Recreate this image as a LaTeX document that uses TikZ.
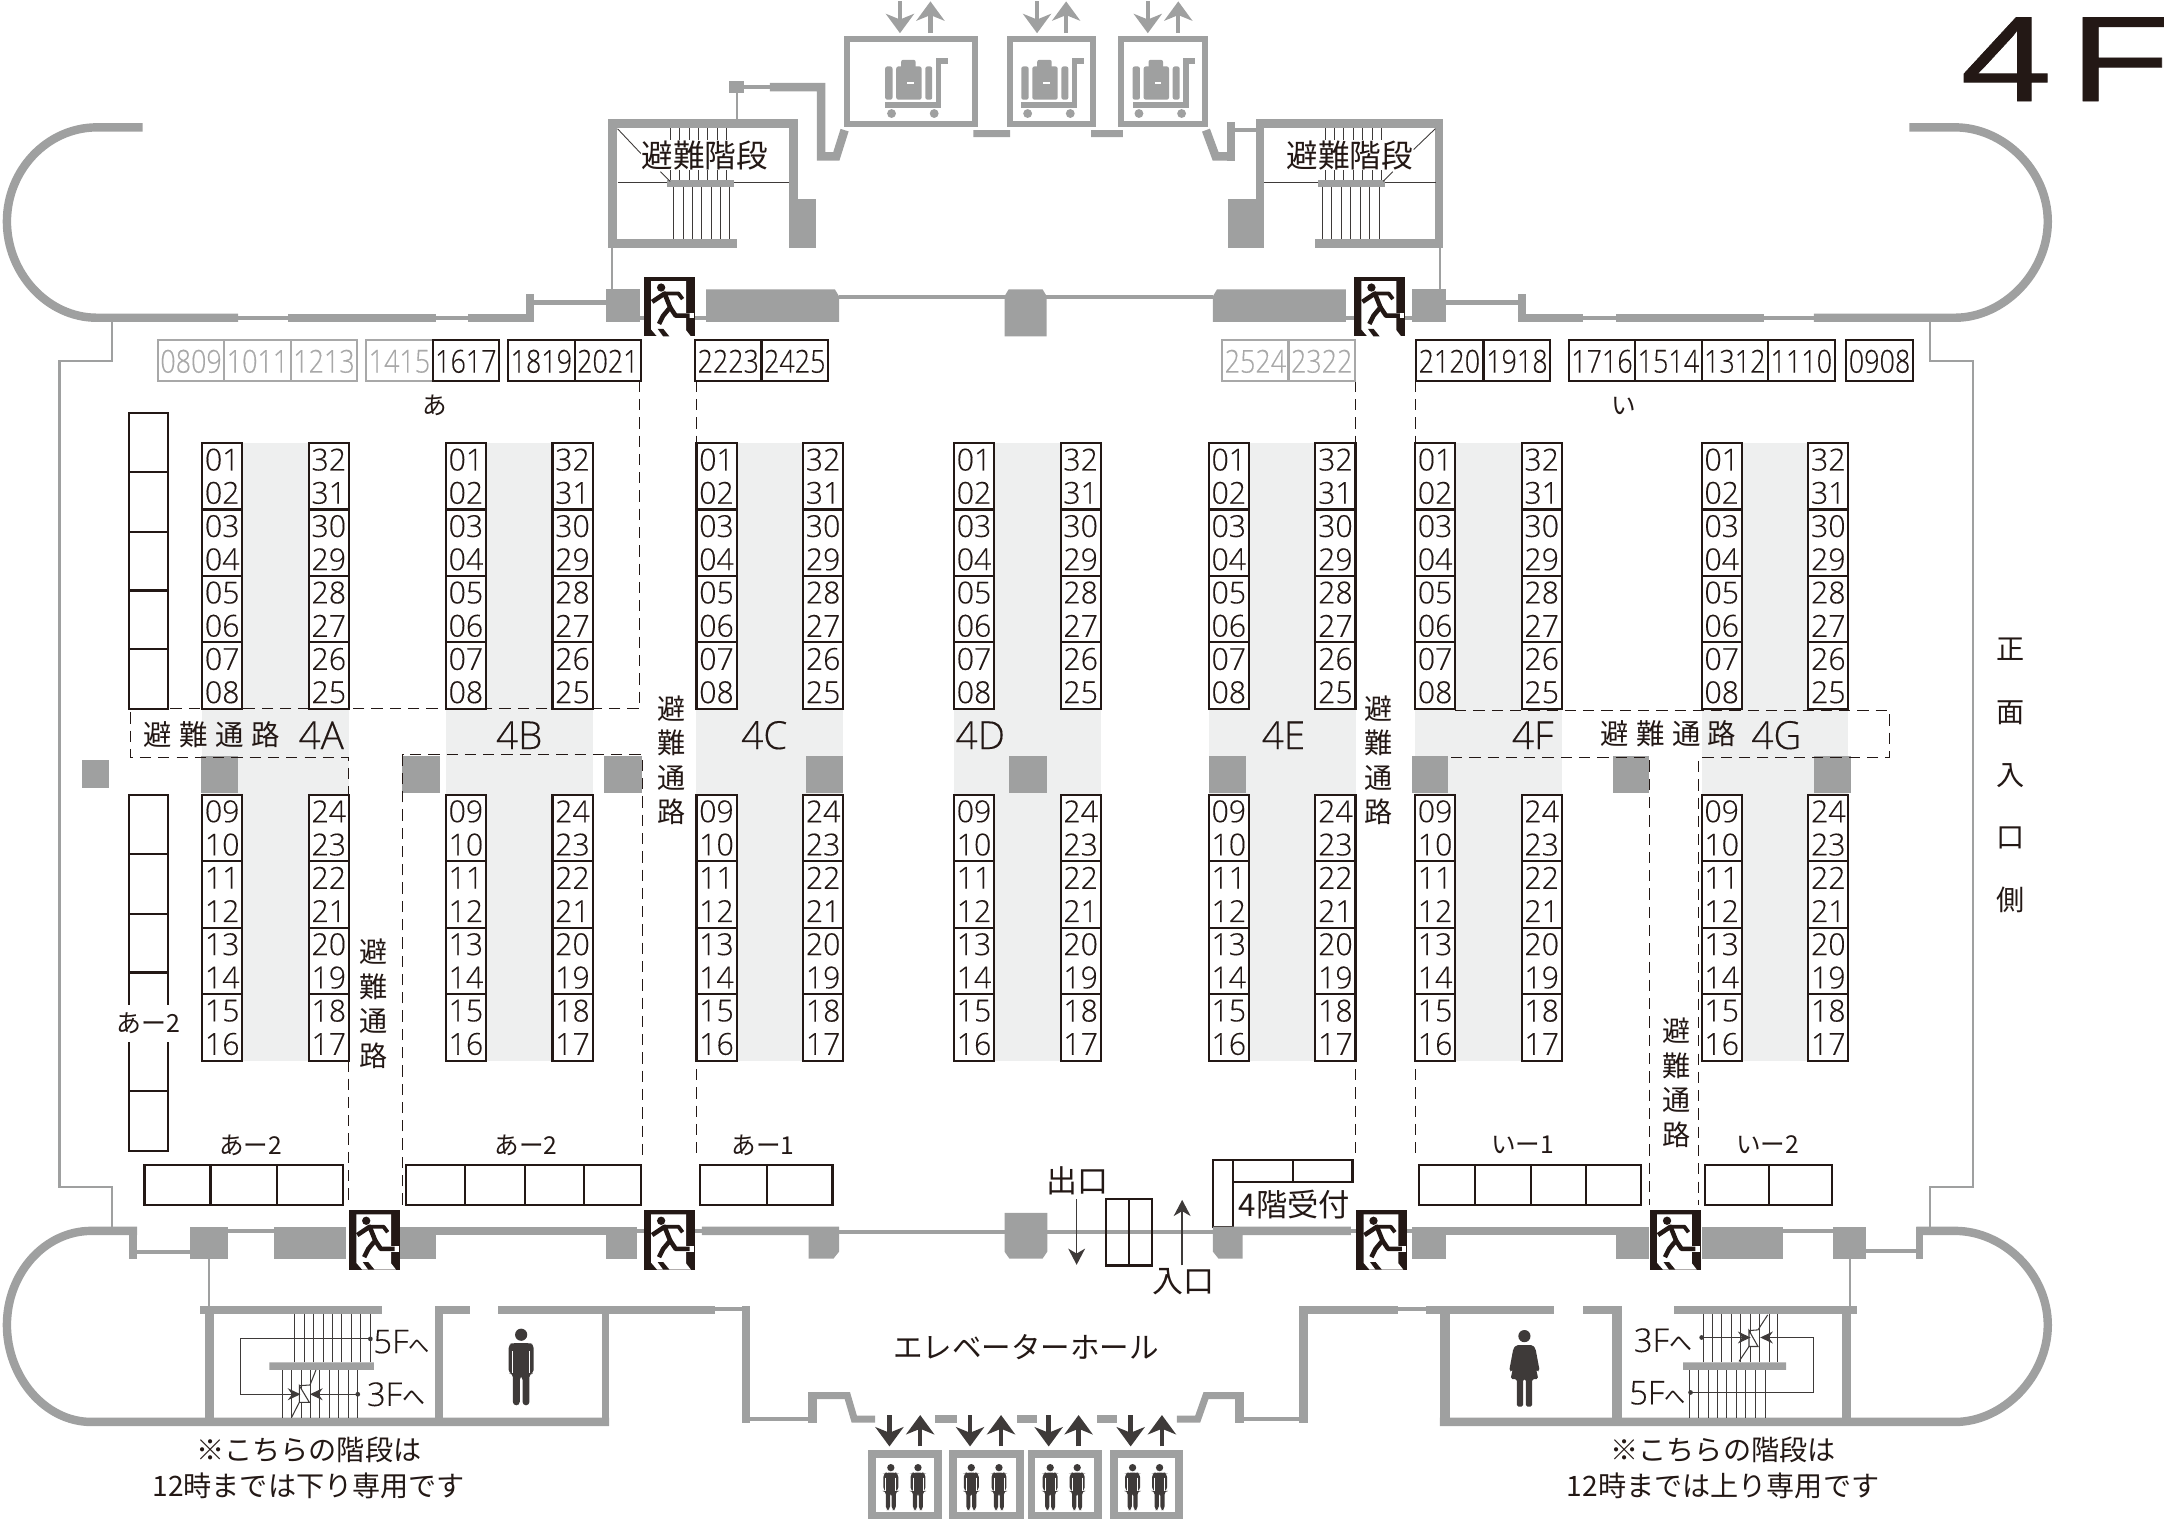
\documentclass[tikz,border=0pt]{standalone}
\usepackage{fontspec}
\usetikzlibrary{arrows.meta}
\setmainfont{Liberation Sans}
\newfontfamily\jpfont{Noto Sans CJK JP}
\newfontfamily\numfont[FakeBold=0.3]{Open Sans Light}
\newfontfamily\narrowfont[FakeStretch=0.85,FakeBold=0.3]{Open Sans Light}
\newfontfamily\bigfont[FakeStretch=1.36,FakeBold=0.6]{Liberation Sans}
\definecolor{wallgray}{HTML}{9FA0A0}
\definecolor{floorgray}{HTML}{EEEFEF}
\definecolor{ink}{HTML}{231815}
\definecolor{darkink}{HTML}{3E3A39}
\definecolor{fadegray}{HTML}{A8A8A8}
\tikzset{
    wall/.style={draw=wallgray,line width=2.4pt},
    thinwall/.style={draw=wallgray,line width=1.2pt},
    outline/.style={draw=wallgray,line width=0.6pt},
    seatline/.style={draw=ink,line width=0.6pt},
    fadeline/.style={draw=fadegray,line width=0.6pt},
    escape/.style={draw=ink,line width=0.3pt,dash pattern=on 3.2pt off 2pt},
    tread/.style={draw=darkink,line width=0.25pt},
    digit/.style={font=\numfont\fontsize{8.6}{9}\selectfont,text=ink,inner sep=0pt},
    pairnum/.style={font=\narrowfont\fontsize{9}{9}\selectfont,text=ink,inner sep=0pt},
    blockname/.style={font=\numfont\fontsize{11}{11}\selectfont,text=ink,inner sep=0pt},
    jp/.style={font=\jpfont\fontsize{8}{9.8}\selectfont,text=ink,inner sep=0pt,align=center},
    jpsmall/.style={font=\jpfont\fontsize{7}{8}\selectfont,text=ink,inner sep=0pt},
    floornum/.style={font=\numfont\fontsize{9.3}{10}\selectfont,text=ink,inner sep=0pt},
    grayarrow/.style={draw=wallgray,line width=1.2pt,-{Stealth[length=5.5pt,width=8pt,inset=1.6pt]}},
    darkarrow/.style={draw=darkink,line width=1.3pt,-{Stealth[length=5.5pt,width=8pt,inset=1.6pt]}},
    thinarrow/.style={draw=darkink,line width=0.4pt,-{Stealth[length=4.6pt,width=4.8pt,inset=1.4pt]}},
    pointer/.style={draw=darkink,line width=0.3pt,-{Stealth[length=3.6pt,width=3.4pt,inset=1.2pt]}},
    breakline/.style={draw=darkink,line width=0.3pt,line join=miter},
    pics/man/.style={code={
        \fill[darkink] (0,5) circle (4.4);
        \fill[darkink,rounded corners=1pt] (-9,12)--(-6,11)--(6,11)--(9,12)--(9,33)--(6,33)--(6,56)--(1,56)--(1,35)--(-1,35)--(-1,56)--(-6,56)--(-6,33)--(-9,33)--cycle;
        \draw[white,line width=0.25pt] (-6,17)--(-6,33) (6,17)--(6,33);
    }},
    pics/woman/.style={code={
        \fill[darkink] (0,5) circle (4.4);
        \fill[darkink,rounded corners=0.5pt] (-6,11.5)--(6,11.5)--(8,14)--(11,30)--(9,31)--(7,22)--(10,36)--(5.5,36)--(5.5,56)--(1,56)--(1,36)--(-1,36)--(-1,56)--(-5.5,56)--(-5.5,36)--(-10,36)--(-7,22)--(-9,31)--(-11,30)--(-8,14)--cycle;
    }},
    pics/cart/.style={code={
        \fill[wallgray,rounded corners=0.6pt] (0,6) rectangle (5.3,30);
        \fill[wallgray,rounded corners=0.6pt] (8,6) rectangle (26.3,30);
        \fill[wallgray,rounded corners=0.6pt] (11.5,1.2) rectangle (22,8);
        \fill[wallgray,rounded corners=0.6pt] (29,6) rectangle (34,30);
        \fill[white] (16,17) rectangle (20.7,19);
        \fill[wallgray] (0,31.4) rectangle (40.6,36);
        \fill[wallgray] (36.7,0) rectangle (40.6,36);
        \fill[wallgray] (36.7,0) rectangle (45.4,4);
        \fill[wallgray] (4.6,40) circle (3.2) (35.4,40) circle (3.2);
    }},
    pics/exitsign/.style={code={
        \fill[ink] (0,0) rectangle (37,43);
        \fill[white] (5.3,3)--(30.5,3)--(30.5,38.5)--(34,43)--(9.6,43)--(5.3,38)--cycle;
        \fill[ink] (12.5,7.7) circle (3);
        \draw[ink,line width=1.3pt,line join=round] (6,18)--(15,12)--(19,22)--(14,28)--(11,34);
        \draw[ink,line width=1.1pt,line join=round] (15,12)--(25,12)--(28,16);
        \draw[white,line width=1.6pt] (24,28)--(36,28);
        \draw[ink,line width=1.3pt,line join=round] (19,22)--(23,28)--(33,28);
        \fill[ink] (10,37.5)--(14,37.5)--(18.5,43)--(14,43)--cycle;
    }},
}
\newcommand{\seatbox}[5]{%
    \draw[seatline,fill=white] (#1,#2) rectangle ++(29,48);
    \node[digit] (seat#5#3) at (#1+14.5,#2+12) {#3};
    \node[digit] (seat#5#4) at (#1+14.5,#2+36) {#4};
}

\begin{document}
\begin{tikzpicture}[x=0.013846cm,y=-0.013846cm]
    \useasboundingbox (0,0) rectangle (1568,1097.8);
    % booth floors
    \foreach \x in {146,322,503,689,873,1022,1229}
        \fill[floorgray] (\x,320) rectangle (\x+106,766);
    % pillars
    \foreach \a/\b/\c/\d in {145/546/172/573,59/549/79/569,290/546/317.5/573,436/546/463.7/573,582/546/609/573,729/546/756/573,873/546/900/573,1020/546/1046/573,1165/546/1191/573,1310/546/1337/573}
        \fill[wallgray] (\a,\b) rectangle (\c,\d);
    % escape routes
    \draw[escape] (462,275) -- (462,512) -- (94,512) -- (94,547) -- (252,547) -- (252,870);
    \draw[escape] (291,870) -- (291,545) -- (464,545) -- (464,838);
    \draw[escape] (503,275) -- (503,512) (503,574) -- (503,838);
    \draw[escape] (979,275) -- (979,512) (979,574) -- (979,838);
    \draw[escape] (1022,275) -- (1022,512) (1022,574) -- (1022,838);
    \draw[escape] (1051,513) -- (1365,513) -- (1365,547) -- (1227,547) -- (1227,870);
    \draw[escape] (1048,547) -- (1191,547) -- (1191,870);
    % booth blocks
    \foreach \x/\blockid in {146/A,322/B,503/C,689/D,873/E,1022/F,1229/G} {
        \seatbox{\x}{320}{01}{02}{\blockid}
        \seatbox{\x}{368}{03}{04}{\blockid}
        \seatbox{\x}{416}{05}{06}{\blockid}
        \seatbox{\x}{464}{07}{08}{\blockid}
        \seatbox{\x}{574}{09}{10}{\blockid}
        \seatbox{\x}{622}{11}{12}{\blockid}
        \seatbox{\x}{670}{13}{14}{\blockid}
        \seatbox{\x}{718}{15}{16}{\blockid}
        \seatbox{\x+77}{320}{32}{31}{\blockid}
        \seatbox{\x+77}{368}{30}{29}{\blockid}
        \seatbox{\x+77}{416}{28}{27}{\blockid}
        \seatbox{\x+77}{464}{26}{25}{\blockid}
        \seatbox{\x+77}{574}{24}{23}{\blockid}
        \seatbox{\x+77}{622}{22}{21}{\blockid}
        \seatbox{\x+77}{670}{20}{19}{\blockid}
        \seatbox{\x+77}{718}{18}{17}{\blockid}
    }
    \foreach \x/\blockid in {232/A,375/B,552/C,708/D,927/E,1107/F,1283/G}
        \node[blockname] (name\blockid) at (\x,531) {4\blockid};
    % side stacks
    \foreach \y in {298,341,384,426,469} \draw[seatline] (93,\y) rectangle (121.5,\y+43);
    \foreach \y in {574,617,660,702,745,788} \draw[seatline] (93,\y) rectangle (121.5,\y+43);
    \node[jp,fill=white,minimum height=10.6pt,font=\jpfont\fontsize{7.1}{8}\selectfont] (stacklabel) at (107,739) {あー2};
    % top row pairs
    \foreach \x/\pairid in {114/0809,162/1011,210/1213,264.5/1415} {
        \draw[fadeline] (\x,245.5) rectangle ++(48,29.5);
        \node[pairnum,text=fadegray] (pair\pairid) at (\x+24,261) {\pairid};
    }
    \foreach \x/\pairid in {882.7/2524,930.6/2322} {
        \draw[fadeline] (\x,245.5) rectangle ++(48,29.5);
        \node[pairnum,text=fadegray] (pair\pairid) at (\x+24,261) {\pairid};
    }
    \foreach \x/\pairid in {312.5/1617,367/1819,415/2021,502/2223,550/2425,1022.8/2120,1071.6/1918,1133/1716,1181/1514,1229/1312,1277/1110,1333.5/0908} {
        \draw[seatline] (\x,245.5) rectangle ++(48,29.5);
        \node[pairnum] (pair\pairid) at (\x+24,261) {\pairid};
    }
    \node[jpsmall] (rowa) at (314,293) {あ};
    \node[jpsmall] (rowi) at (1173,293) {い};
    % lower desks
    \foreach \a/\b in {104.4/152,152/200,200/248,293/336,336/379,379/422,422/463,505.6/553.7,553.7/601.3,1025/1065,1065/1105.7,1105.7/1145.6,1145.6/1185.5,1231.4/1277.8,1277.8/1323}
        \draw[seatline] (\a,841.3) rectangle (\b,870);
    \foreach \x/\deskid/\deskname in {181/a/あー2,380/b/あー2,551/c/あー1,1099.7/d/いー1,1276.7/e/いー2}
        \node[jpsmall] (desk\deskid) at (\x,827) {\deskname};
    % reception
    \draw[seatline] (876,838) rectangle (890.5,886);
    \draw[seatline] (890.5,838) rectangle (933.6,854);
    \draw[seatline] (933.6,838) rectangle (976.8,854);
    \node[jp,font=\jpfont\fontsize{8.9}{10}\selectfont] (reception) at (935,870) {4階受付};
    % upper walls
    \draw[wall] (103,92) -- (70,92) .. controls (34,92) and (5,123) .. (5,160) .. controls (5,197) and (34,229.5) .. (70,229.5) -- (172,229.5);
    \draw[wall] (1379,92) -- (1412,92) .. controls (1447,92) and (1479,123) .. (1479,160) .. controls (1479,197) and (1447,229.5) .. (1412,229.5) -- (1310,229.5);
    \foreach \a/\b/\c/\d in {208/227/315/232.5,338/227/385/232.5,380/212/385.5/232.5,438/209/462/232.5,1020/209/1044/232.5,1096/212/1102/232.5,1096/227/1143/232.5,1167/227/1274/232.5}
        \fill[wallgray] (\a,\b) rectangle (\c,\d);
    \draw[thinwall] (172,229.5) -- (208,229.5) (315,229.5) -- (338,229.5) (385,218.5) -- (438,218.5) (462,229.5) -- (510,229.5);
    \draw[thinwall] (606,214.7) -- (876,214.7) (972,229.5) -- (1020,229.5) (1044,218.5) -- (1096,218.5) (1143,229.5) -- (1167,229.5) (1274,229.5) -- (1310,229.5);
    \fill[wallgray] (510,209) -- (603,209) -- (606,214) -- (606,232.5) -- (510,232.5) -- cycle;
    \fill[wallgray] (728.5,209) -- (753,209) -- (756,214) -- (756,243) -- (725.5,243) -- (725.5,214) -- cycle;
    \fill[wallgray] (879,209) -- (972,209) -- (972,232.5) -- (876,232.5) -- (876,214) -- cycle;
    \draw[outline] (81,232) -- (81,261) -- (43,261) -- (43,857) -- (81,857) -- (81,886);
    \draw[outline] (1394,232) -- (1394,261) -- (1425,261) -- (1425,857) -- (1394,857) -- (1394,886);
    % emergency stairs
    \foreach \a/\b/\c/\d in {439/86/576/92.5,439/86/445.5/179,570/86/576/179,570/144/589/179,439/172.6/532/179,907/86/1042.5/92.5,907/86/913/179,887/144/913/179,1036.5/86/1042.5/179,950/172.6/1042.5/179,482/130/530/135,952/130/1000/135}
        \fill[wallgray] (\a,\b) rectangle (\c,\d);
    \draw[outline] (442,179) -- (442,209) (1040,179) -- (1040,209);
    \foreach \x in {484,490.8,497.6,504.4,511.2,518,524.8} \draw[tread] (\x,92.5) -- (\x,130);
    \foreach \x in {486.5,493.3,500.1,506.9,513.7,520.5,527} \draw[tread] (\x,135) -- (\x,172.6);
    \foreach \x in {957,963.8,970.6,977.4,984.2,991,998} \draw[tread] (\x,92.5) -- (\x,130);
    \foreach \x in {955,961.8,968.6,975.4,982.2,989,996} \draw[tread] (\x,135) -- (\x,172.6);
    \draw[tread] (446,132) -- (482,132) (530,132) -- (570,132) (913,132) -- (952,132) (1000,132) -- (1037,132);
    \draw[tread] (446,93) -- (463,111) (477,124) -- (484,131) (1036.6,93) -- (1021,108) (1006,124) -- (999,131);
    \node[jp,fill=white,font=\jpfont\fontsize{9}{10}\selectfont] (stairleft) at (509,112) {避難階段};
    \node[jp,fill=white,font=\jpfont\fontsize{9}{10}\selectfont] (stairright) at (975,112) {避難階段};
    % goods lifts
    \draw[thinwall,fill=wallgray] (528,60) rectangle (536,66);
    \draw[outline] (532,66) -- (532,86);
    \draw[thinwall] (536,62.6) -- (556,62.6);
    \draw[wall,line join=miter] (556,63) -- (593,63) -- (593,113) -- (604,113) -- (610,94);
    \draw[wall,line join=miter] (871,94) -- (878,113) -- (889,113);
    \draw[wall] (889,88) -- (889,116);
    \draw[thinwall] (891.6,94) -- (907,94);
    \fill[wallgray] (703,94) rectangle (729.5,99) (788,94) rectangle (811,99);
    \foreach \a/\b/\c in {612/704.5/639.3,729.5/789.5/737.6,809.5/870.5/818} {
        \draw[draw=wallgray,line width=1.7pt] (\a,28.5) rectangle (\b,89.5);
        \pic at (\c,42) {cart};
    }
    \foreach \a/\b in {650/672,749/770,829/851} {
        \draw[grayarrow] (\a,1) -- (\a,24);
        \draw[grayarrow] (\b,24) -- (\b,1);
    }
    % lower walls
    \draw[wall] (99,889) -- (66,889) .. controls (32,889) and (5,920) .. (5,957) .. controls (5,994) and (32,1027) .. (66,1027) -- (440,1027);
    \draw[wall] (1384,889) -- (1412,889) .. controls (1447,889) and (1479,920) .. (1479,957) .. controls (1479,994) and (1447,1027) .. (1412,1027) -- (1040,1027);
    \foreach \a/\b/\c/\d in {93/886/99/909,137/886/165/909,197.6/886/250/909,289/886/315/909,315/886/438/892,438/886/460/909,1020/886/1044/909,1044/886/1167/892,1167/886/1191/909,1229/886/1287.5/909,1323.6/886/1348/909,1384/886/1389/909}
        \fill[wallgray] (\a,\b) rectangle (\c,\d);
    \fill[wallgray] (507,886) -- (606,886) -- (606,904) -- (602,909) -- (584,909) -- (584,892) -- (507,892) -- cycle;
    \fill[wallgray] (725.5,876) -- (756.4,876) -- (756.4,904) -- (753,909) -- (729,909) -- (725.5,904) -- cycle;
    \fill[wallgray] (876,886) -- (975.7,886) -- (975.7,892) -- (897.5,892) -- (897.5,909) -- (880,909) -- (876,904) -- cycle;
    \draw[thinwall] (99,904) -- (137,904) (165,889) -- (197.6,889) (460,889) -- (507,889) (606,889.7) -- (725.5,889.7) (756.4,889.7) -- (876,889.7) (975,889) -- (1020,889) (1287.5,889) -- (1323.6,889) (1348,903.4) -- (1384,903.4);
    \draw[outline] (151,909) -- (151,943) (1336,909) -- (1336,943);
    % rooms below
    \foreach \a/\b/\c/\d in {144.4/943/276/949,148.4/943/154.5/1027,314/943/339.4/949,314/943/320/1027,359.7/943/516.7/949,434.7/943/440/1030,536/943/542/1028,583.6/1005.5/590/1028,892/1005.5/898.6/1028,938/943/945/1028,939.6/943/1009.7/949,1029.7/943/1122.4/949,1040/943/1047/1030,1143/943/1171.5/949,1164.5/943/1171.5/1027,1209/943/1341.4/949,1330/943/1336.6/1027,675/1022/691.5/1028,734.6/1022/748.7/1028,792/1022/806.9/1028}
        \fill[wallgray] (\a,\b) rectangle (\c,\d);
    \draw[wall,line width=2pt,line join=miter] (586,1008) -- (612,1008) -- (617,1025) -- (632,1025);
    \draw[wall,line width=2pt,line join=miter] (850,1025) -- (865,1025) -- (871,1008) -- (896,1008);
    \draw[thinwall] (516.7,945.6) -- (536,945.6) (542,1024.7) -- (583.6,1024.7) (898.6,1024.7) -- (938,1024.7) (1009.7,945.6) -- (1029.7,945.6);
    % guest stairs
    \foreach \x in {213,219.8,226.6,233.4,240.1,246.9,253.7,260.5,267.2} \draw[tread] (\x,949) -- (\x,984);
    \foreach \x in {204,210.8,217.6,224.3,231,237.8,244.5,251.3,258} \draw[tread] (\x,989.4) -- (\x,1024);
    \foreach \x in {1230,1236.8,1243.6,1250.4,1257.2,1264,1270.8,1277.6,1284} \draw[tread] (\x,949) -- (\x,984);
    \foreach \x in {1220,1226.8,1233.6,1240.4,1247.2,1254,1260.8,1267.6,1275} \draw[tread] (\x,989.4) -- (\x,1024);
    \fill[wallgray] (194.5,984) rectangle (270,989.4) (1215.7,984) rectangle (1290,989.4);
    \draw[breakline,fill=white] (216.2,1000.8) -- (223.4,1012.8) -- (216.2,1012.8) -- cycle;
    \draw[breakline] (228.2,989.5) -- (223.9,1000.3) -- (216.2,1000.8) (216.2,1012.8) -- (210.6,1023.7);
    \draw[breakline,fill=white] (1263.2,961) -- (1269.7,972.5) -- (1263.2,972.5) -- cycle;
    \draw[breakline] (1276.7,949.7) -- (1269.7,960.5) -- (1263.2,961) (1263.2,972.5) -- (1256,983.3);
    \coordinate (dnfive) at (267.5,967);
    \coordinate (dnthree) at (258.4,1007);
    \coordinate (upfive) at (1221,1005.7);
    \coordinate (upthree) at (1229,966);
    \fill[darkink] (dnfive) circle (1.7) (dnthree) circle (1.7) (upfive) circle (1.7) (upthree) circle (1.7);
    \draw[pointer] (dnfive) -- (173.8,967) -- (173.8,1007) -- (217,1007);
    \draw[pointer] (dnthree) -- (223.9,1007);
    \draw[pointer] (upfive) -- (1310,1005.7) -- (1310,966) -- (1271.3,966);
    \draw[pointer] (upthree) -- (1264.3,966);
    \node[floornum] (toleftfive) at (290,969) {5F{\jpfont\fontsize{6}{6}\selectfont へ}};
    \node[floornum] (toleftthree) at (286,1007) {3F{\jpfont\fontsize{6.5}{6}\selectfont へ}};
    \node[floornum] (torightthree) at (1201,968) {3F{\jpfont\fontsize{6.5}{6}\selectfont へ}};
    \node[floornum] (torightfive) at (1197,1006) {5F{\jpfont\fontsize{6}{6}\selectfont へ}};
    \pic at (376.4,959) {man};
    \pic at (1101,960) {woman};
    % notes and hall
    \node[jp,font=\jpfont\fontsize{8}{10.2}\selectfont] (noteleft) at (223,1060) {※こちらの階段は\\12時までは下り専用です};
    \node[jp,font=\jpfont\fontsize{8}{10.2}\selectfont] (noteright) at (1244.5,1060) {※こちらの階段は\\12時までは上り専用です};
    \node[jp,font=\jpfont\fontsize{8.4}{10}\selectfont] (hall) at (741,973) {エレベーターホール};
    \node[jp,font=\jpfont\fontsize{8.8}{10}\selectfont] (exitword) at (778,853) {出口};
    \node[jp,font=\jpfont\fontsize{8.8}{10}\selectfont] (entryword) at (855,926) {入口};
    \draw[thinarrow] (777.6,866) -- (777.6,913.5);
    \draw[thinarrow] (853.8,914) -- (853.8,866.6);
    \draw[seatline] (799,866) rectangle (815.5,914) (815.5,866) rectangle (832,914);
    % passenger lifts
    \foreach \a/\b/\p/\q/\r/\s in {629.7/677.4/642.4/664.6/643.4/663,688.4/736.6/700.6/723/701.5/721.5,745/793/757.4/779/758.5/778,804.5/851.4/816.6/839.2/818/837.5} {
        \draw[draw=wallgray,line width=2.2pt] (\a,1050) rectangle (\b,1094.5);
        \draw[darkarrow] (\p,1022) -- (\p,1044.7);
        \draw[darkarrow] (\q,1044.7) -- (\q,1022);
        \pic[scale=0.6] at (\r,1057) {man};
        \pic[scale=0.6] at (\s,1057) {man};
    }
    % escape texts
    \node[jp,font=\jpfont\fontsize{8.1}{8.1}\selectfont] (routeleft) at (153,531) {避\hspace{2.1pt}難\hspace{2.1pt}通\hspace{2.1pt}路};
    \node[jp,font=\jpfont\fontsize{8.1}{8.1}\selectfont] (routeright) at (1205,530) {避\hspace{2.1pt}難\hspace{2.1pt}通\hspace{2.1pt}路};
    \node[jp] (routec) at (485,549) {避\\難\\通\\路};
    \node[jp] (routee) at (996,549) {避\\難\\通\\路};
    \node[jp] (routea) at (270,725) {避\\難\\通\\路};
    \node[jp] (routeg) at (1211,782) {避\\難\\通\\路};
    \node[jp,font=\jpfont\fontsize{8}{17.9}\selectfont] (frontside) at (1452,560) {正\\面\\入\\口\\側};
    % exits
    \foreach \x/\y in {465/200,978/200,252/874,465/874,979.5/874,1191.5/874}
        \pic at (\x,\y) {exitsign};
    % floor title
    \node[font=\bigfont\fontsize{34.5}{34.5}\selectfont,text=ink,inner sep=0pt,anchor=base east] (floortitle) at (1568,73) {4\hspace{5pt}F\hspace{-2pt}};
\end{tikzpicture}
\end{document}
